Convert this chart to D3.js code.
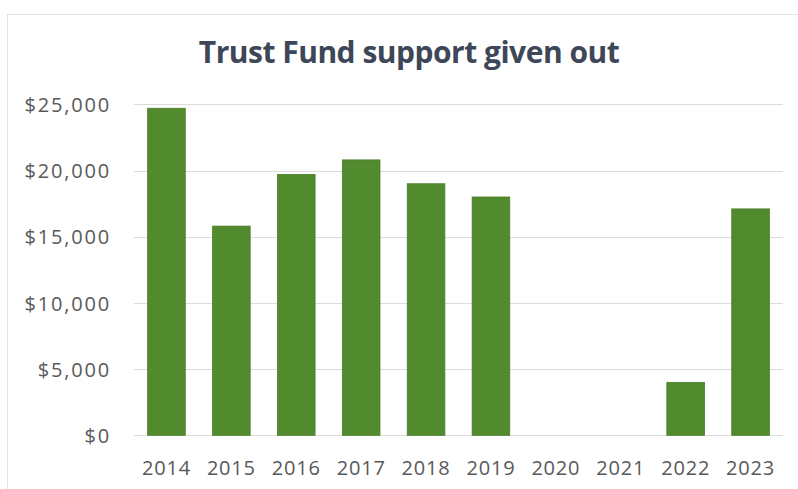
<!DOCTYPE html>
<html>
<head>
<meta charset="utf-8">
<script src="https://cdn.jsdelivr.net/npm/d3@7"></script>
<style>
  html, body { margin: 0; padding: 0; background: #fff; }
  svg { display: block; }
</style>
</head>
<body>
<svg id="chart" width="798" height="489"></svg>
<script>
// Trust Fund payouts per year (USD)
const years = ["2014", "2015", "2016", "2017", "2018", "2019", "2020", "2021", "2022", "2023"];
const amounts = [24700, 15800, 19700, 20800, 19000, 18000, 0, 0, 4000, 17100];
const yTicks = [0, 5000, 10000, 15000, 20000, 25000];
const titleText = "Trust Fund support given out";

const svg = d3.select("#chart");
const W = 798, H = 489;
const plot = { left: 134, right: 783, top: 104.3, bottom: 435.3 };

// chart area frame
svg.append("rect")
  .attr("x", 7.5).attr("y", 14.5)
  .attr("width", W).attr("height", H)
  .attr("fill", "#fff")
  .attr("stroke", "#e3e3e3");

const x = d3.scaleBand()
  .domain(years)
  .range([plot.left, plot.right])
  .paddingInner(0.42)
  .paddingOuter(0.21);

const y = d3.scaleLinear()
  .domain([0, 25000])
  .range([plot.bottom, plot.top]);

// gridlines
svg.append("g")
  .selectAll("line")
  .data(yTicks)
  .join("line")
  .attr("x1", plot.left).attr("x2", plot.right)
  .attr("y1", d => Math.round(y(d)) + 0.5)
  .attr("y2", d => Math.round(y(d)) + 0.5)
  .attr("stroke", "#dcdcdc")
  .attr("stroke-width", 1);

// y axis labels
const yAxis = d3.axisLeft(y)
  .tickValues(yTicks)
  .tickSize(0)
  .tickPadding(0)
  .tickFormat(d => "$" + d3.format(",")(d));

svg.append("g")
  .attr("transform", "translate(111,0)")
  .call(yAxis)
  .call(g => g.select(".domain").remove())
  .call(g => g.selectAll("text")
    .attr("fill", "#595959")
    .attr("font-family", "'Open Sans', sans-serif")
    .attr("font-size", 20)
    .attr("letter-spacing", 1.8)
    .attr("dy", "0.36em"));

// bars
svg.append("g")
  .selectAll("rect")
  .data(years.map((yr, i) => ({ yr, v: amounts[i] })))
  .join("rect")
  .attr("x", d => x(d.yr))
  .attr("width", x.bandwidth())
  .attr("y", d => y(d.v))
  .attr("height", d => y(0) - y(d.v))
  .attr("fill", "#528a2e")
  .attr("stroke", "#4a7d2a")
  .attr("stroke-width", 0.8);

// x axis labels
const xAxis = d3.axisBottom(x).tickSize(0).tickPadding(0);
svg.append("g")
  .attr("transform", "translate(0,475)")
  .call(xAxis)
  .call(g => g.select(".domain").remove())
  .call(g => g.selectAll("text")
    .attr("fill", "#595959")
    .attr("font-family", "'Open Sans', sans-serif")
    .attr("font-size", 20)
    .attr("letter-spacing", 0.8)
    .attr("dy", 0));

// title
svg.append("text")
  .attr("x", 409)
  .attr("y", 63)
  .attr("text-anchor", "middle")
  .attr("fill", "#3e4757")
  .attr("font-family", "'Open Sans', sans-serif")
  .attr("font-weight", 700)
  .attr("font-size", 30)
  .attr("letter-spacing", -0.5)
  .text(titleText);
</script>
</body>
</html>
